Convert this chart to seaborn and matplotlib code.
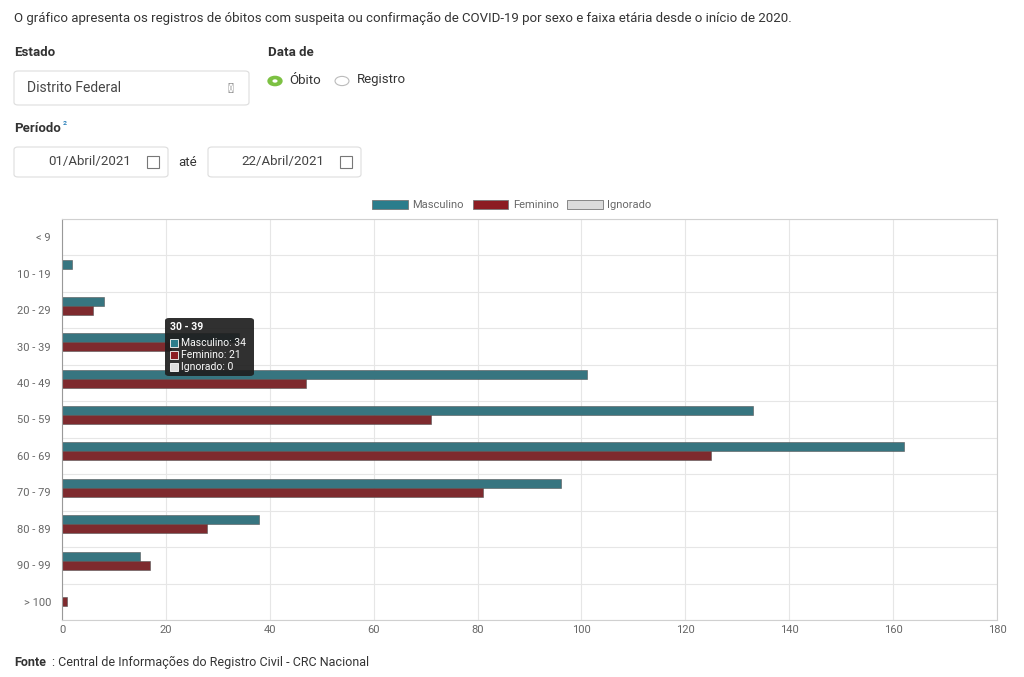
import matplotlib
matplotlib.use("Agg")
import matplotlib.pyplot as plt
from matplotlib.patches import FancyBboxPatch, Rectangle, Circle, Patch
import seaborn as sns
import pandas as pd

faixas = ["< 9", "10 - 19", "20 - 29", "30 - 39", "40 - 49", "50 - 59",
          "60 - 69", "70 - 79", "80 - 89", "90 - 99", "> 100"]
masculino = [0, 2, 8, 34, 101, 133, 162, 96, 38, 15, 0]
feminino = [0, 0, 6, 21, 47, 71, 125, 81, 28, 17, 1]
ignorado = [0] * 11
x_ticks = [0, 20, 40, 60, 80, 100, 120, 140, 160, 180]

cores = {"Masculino": "#2b7d8c", "Feminino": "#8c1c22", "Ignorado": "#dcdcdc"}

df = pd.DataFrame({
    "faixa": faixas * 3,
    "valor": masculino + feminino + ignorado,
    "sexo": ["Masculino"] * 11 + ["Feminino"] * 11 + ["Ignorado"] * 11,
})

plt.rcParams["font.family"] = "Roboto"
W, H = 1024, 677
fig = plt.figure(figsize=(W / 100, H / 100), dpi=100)

def fx(px):
    return px / W

def fy(py):
    return 1 - py / H

ax = fig.add_axes([fx(62), fy(620), fx(997) - fx(62), fy(219) - fy(620)])
sns.barplot(data=df, y="faixa", x="valor", hue="sexo", palette=cores,
            orient="h", width=0.74, ax=ax, legend=False,
            edgecolor="#555555", linewidth=0.4)
ax.set_xlim(0, 180)
ax.set_ylim(10.5, -0.5)
ax.set_xticks(x_ticks)
ax.set_xlabel("")
ax.set_ylabel("")
ax.tick_params(axis="both", labelsize=8, colors="#666666", length=0)
ax.tick_params(axis="y", pad=8)
for i in range(12):
    ax.axhline(i - 0.5, color="#e6e6e6", lw=0.8, zorder=0)
for t in x_ticks:
    ax.axvline(t, color="#e6e6e6", lw=0.8, zorder=0)
for s in ax.spines.values():
    s.set_color("#d0d0d0")
ax.spines["left"].set_color("#999999")

# legenda
handles = [Patch(facecolor=cores[k], edgecolor="#777777", lw=0.6, label=k)
           for k in ["Masculino", "Feminino", "Ignorado"]]
fig.legend(handles=handles, loc="center", bbox_to_anchor=(fx(512), fy(205)),
           ncol=3, frameon=False, fontsize=8, handlelength=3.2, handleheight=0.9,
           columnspacing=0.8, handletextpad=0.4, labelcolor="#666666")

# tooltip
tip = FancyBboxPatch((fx(165), fy(376)), fx(89), fy(318) - fy(376),
                     boxstyle="round,pad=0,rounding_size=0.004",
                     transform=fig.transFigure, facecolor="#1e1e1e", alpha=0.92,
                     edgecolor="none", zorder=10)
fig.add_artist(tip)
fig.text(fx(170), fy(327), "30 - 39", color="white", fontsize=7.5,
         fontweight="bold", va="center", zorder=11)
for j, (nome, v) in enumerate(zip(["Masculino", "Feminino", "Ignorado"], [34, 21, 0])):
    yy = 343 + j * 12
    fig.add_artist(Rectangle((fx(170), fy(yy + 4)), fx(8), fy(yy - 4) - fy(yy + 4),
                             transform=fig.transFigure, facecolor=cores[nome],
                             edgecolor="white", lw=0.6, zorder=11))
    fig.text(fx(181), fy(yy), f"{nome}: {v}", color="white", fontsize=7.5,
             va="center", zorder=11)

# textos da pagina
txt = "#333333"
fig.text(fx(14), fy(18), "O gráfico apresenta os registros de óbitos com suspeita ou confirmação de COVID-19 por sexo e faixa etária desde o início de 2020.",
         fontsize=9.5, color=txt, va="center")
fig.text(fx(14), fy(53), "Estado", fontsize=9.5, fontweight="bold", color=txt, va="center")
fig.text(fx(268), fy(53), "Data de", fontsize=9.5, fontweight="bold", color=txt, va="center")
fig.add_artist(FancyBboxPatch((fx(14), fy(105)), fx(235), fy(71) - fy(105),
                              boxstyle="round,pad=0,rounding_size=0.004",
                              transform=fig.transFigure, facecolor="white",
                              edgecolor="#dddddd", lw=0.8))
fig.text(fx(27), fy(88), "Distrito Federal", fontsize=10, color="#444444", va="center")
fig.text(fx(230), fy(89), "▾", fontsize=10, color="#777777", va="center", ha="center")
fig.add_artist(Circle((fx(275), fy(81)), 0.0068, transform=fig.transFigure,
                      facecolor="#7cc142", edgecolor="#7cc142"))
fig.add_artist(Circle((fx(275), fy(81)), 0.0025, transform=fig.transFigure,
                      facecolor="white", edgecolor="none"))
fig.text(fx(289), fy(80), "Óbito", fontsize=9.5, color=txt, va="center")
fig.add_artist(Circle((fx(342), fy(81)), 0.0068, transform=fig.transFigure,
                      facecolor="white", edgecolor="#bbbbbb", lw=0.8))
fig.text(fx(357), fy(80), "Registro", fontsize=9.5, color=txt, va="center")
fig.text(fx(14), fy(129), "Período", fontsize=9.5, fontweight="bold", color=txt, va="center")
fig.text(fx(63), fy(126), "²", fontsize=8, color="#2a7fb8", va="center")
for x0, x1, d in [(14, 168, "01/Abril/2021"), (208, 361, "22/Abril/2021")]:
    fig.add_artist(FancyBboxPatch((fx(x0), fy(177)), fx(x1 - x0), fy(147) - fy(177),
                                  boxstyle="round,pad=0,rounding_size=0.004",
                                  transform=fig.transFigure, facecolor="white",
                                  edgecolor="#dddddd", lw=0.8))
    fig.text(fx(x1 - 78), fy(162), d, fontsize=9.5, color="#444444", va="center", ha="center")
    fig.add_artist(Rectangle((fx(x1 - 21), fy(168)), fx(12), fy(156) - fy(168),
                             transform=fig.transFigure, facecolor="none",
                             edgecolor="#777777", lw=0.8))
fig.text(fx(178), fy(162), "até", fontsize=9.5, color=txt, va="center")
fig.text(fx(14), fy(662), "Fonte", fontsize=9, fontweight="bold", color=txt, va="center")
fig.text(fx(52), fy(662), ": Central de Informações do Registro Civil - CRC Nacional",
         fontsize=9, color=txt, va="center")

fig.savefig("out.png", dpi=100, facecolor="white")
